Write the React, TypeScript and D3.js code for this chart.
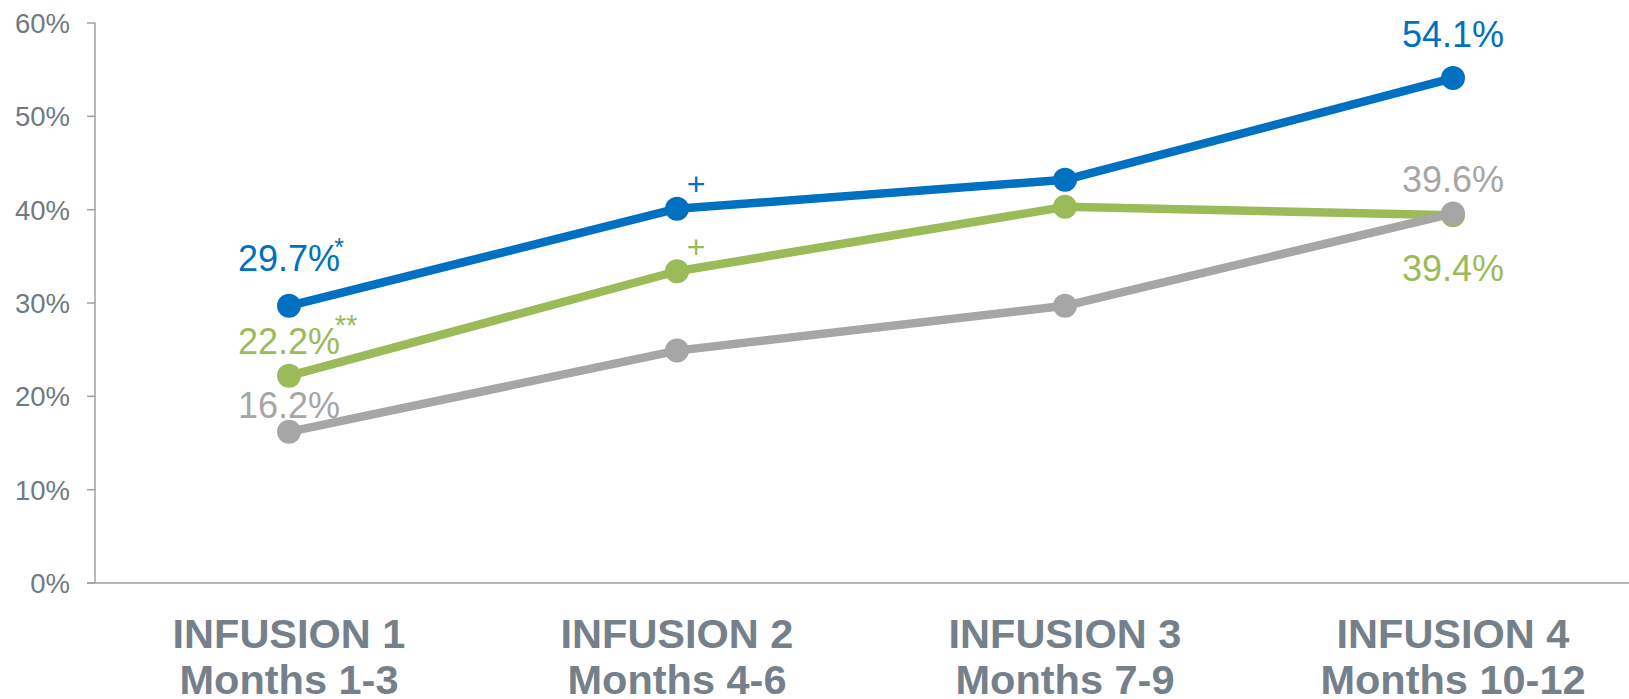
import React from 'react';
import * as d3 from 'd3';

const CATEGORIES = ['INFUSION 1|Months 1-3', 'INFUSION 2|Months 4-6', 'INFUSION 3|Months 7-9', 'INFUSION 4|Months 10-12'];
const BLUE_VALUES = [29.7, 40.1, 43.2, 54.1];
const GREEN_VALUES = [22.2, 33.4, 40.3, 39.4];
const GRAY_VALUES = [16.2, 24.9, 29.7, 39.6];
const Y_TICKS = [0, 10, 20, 30, 40, 50, 60];

// value labels: [series, index, text]
const VALUE_LABELS: [string, number, string][] = [
    ['blue', 0, '29.7%'],
    ['green', 0, '22.2%'],
    ['gray', 0, '16.2%'],
    ['blue', 3, '54.1%'],
    ['gray', 3, '39.6%'],
    ['green', 3, '39.4%'],
];
const MARK_LABELS: [string, number, string][] = [
    ['blue', 0, '*'],
    ['green', 0, '**'],
    ['blue', 1, '+'],
    ['green', 1, '+'],
];

const COLORS: Record<string, string> = { blue: '#0070C0', green: '#9BBB59', gray: '#A6A6A6' };
const FONT = '"Liberation Sans", Arial, sans-serif';

export default function App() {
    const width = 1629;
    const height = 699;
    const left = 95;
    const top = 23;
    const bottom = 583;

    const x = d3.scaleBand<string>().domain(CATEGORIES).range([left, left + 388 * 4]);
    const y = d3.scaleLinear().domain([0, 60]).range([bottom, top]);
    const cx = (i: number) => (x(CATEGORIES[i]) ?? 0) + x.bandwidth() / 2;

    const series: [string, number[]][] = [
        ['blue', BLUE_VALUES],
        ['green', GREEN_VALUES],
        ['gray', GRAY_VALUES],
    ];
    const valuesOf = (name: string) => series.find(s => s[0] === name)![1];

    const line = d3.line<number>().x((_, i) => cx(i)).y(d => y(d));

    // offsets of value labels from their point (baseline)
    const labelDy: Record<string, number> = {
        'blue-0': -35, 'green-0': -22, 'gray-0': -14,
        'blue-3': -31, 'gray-3': -21, 'green-3': 66,
    };
    const markOffset: Record<string, [number, number, number]> = {
        'blue-0': [50, -50, 25],
        'green-0': [57, -41, 29],
        'blue-1': [19, -14, 32],
        'green-1': [19, -13, 32],
    };

    return (
        <svg width={width} height={height} style={{ position: 'absolute', left: 0, top: 0, background: '#fff' }}
            fontFamily={FONT}>
            {/* axes */}
            <line x1={left} x2={left} y1={top} y2={bottom} stroke="#A0A0A0" strokeWidth={1.5} />
            <line x1={left - 8} x2={width} y1={bottom} y2={bottom} stroke="#A0A0A0" strokeWidth={1.5} />
            {Y_TICKS.map(t => (
                <g key={t}>
                    <line x1={left - 8} x2={left} y1={y(t)} y2={y(t)} stroke="#A0A0A0" strokeWidth={1.5} />
                    <text x={left - 25} y={y(t)} dy="0.36em" textAnchor="end" fontSize={27.5} fill="#6F7A82">{t}%</text>
                </g>
            ))}

            {/* x labels */}
            {CATEGORIES.map((c, i) => {
                const [l1, l2] = c.split('|');
                return (
                    <text key={c} textAnchor="middle" fontSize={41.5} fontWeight="bold" fill="#75808A">
                        <tspan x={cx(i)} y={648}>{l1}</tspan>
                        <tspan x={cx(i)} y={694}>{l2}</tspan>
                    </text>
                );
            })}

            {/* value labels */}
            {VALUE_LABELS.map(([s, i, txt]) => (
                <text key={s + i} x={cx(i)} y={y(valuesOf(s)[i]) + labelDy[`${s}-${i}`]} textAnchor="middle"
                    fontSize={36} fill={COLORS[s]}>{txt}</text>
            ))}
            {MARK_LABELS.map(([s, i, txt]) => {
                const [dx, dy, fs] = markOffset[`${s}-${i}`];
                return (
                    <text key={'m' + s + i} x={cx(i) + dx} y={y(valuesOf(s)[i]) + dy} textAnchor="middle"
                        fontSize={fs} fill={COLORS[s]}>{txt}</text>
                );
            })}

            {/* lines */}
            {series.map(([name, vals]) => (
                <g key={name}>
                    <path d={line(vals) ?? ''} fill="none" stroke={COLORS[name]} strokeWidth={8.5} strokeLinejoin="round" />
                    {vals.map((v, i) => (
                        <circle key={i} cx={cx(i)} cy={y(v)} r={12} fill={COLORS[name]} />
                    ))}
                </g>
            ))}
        </svg>
    );
}
